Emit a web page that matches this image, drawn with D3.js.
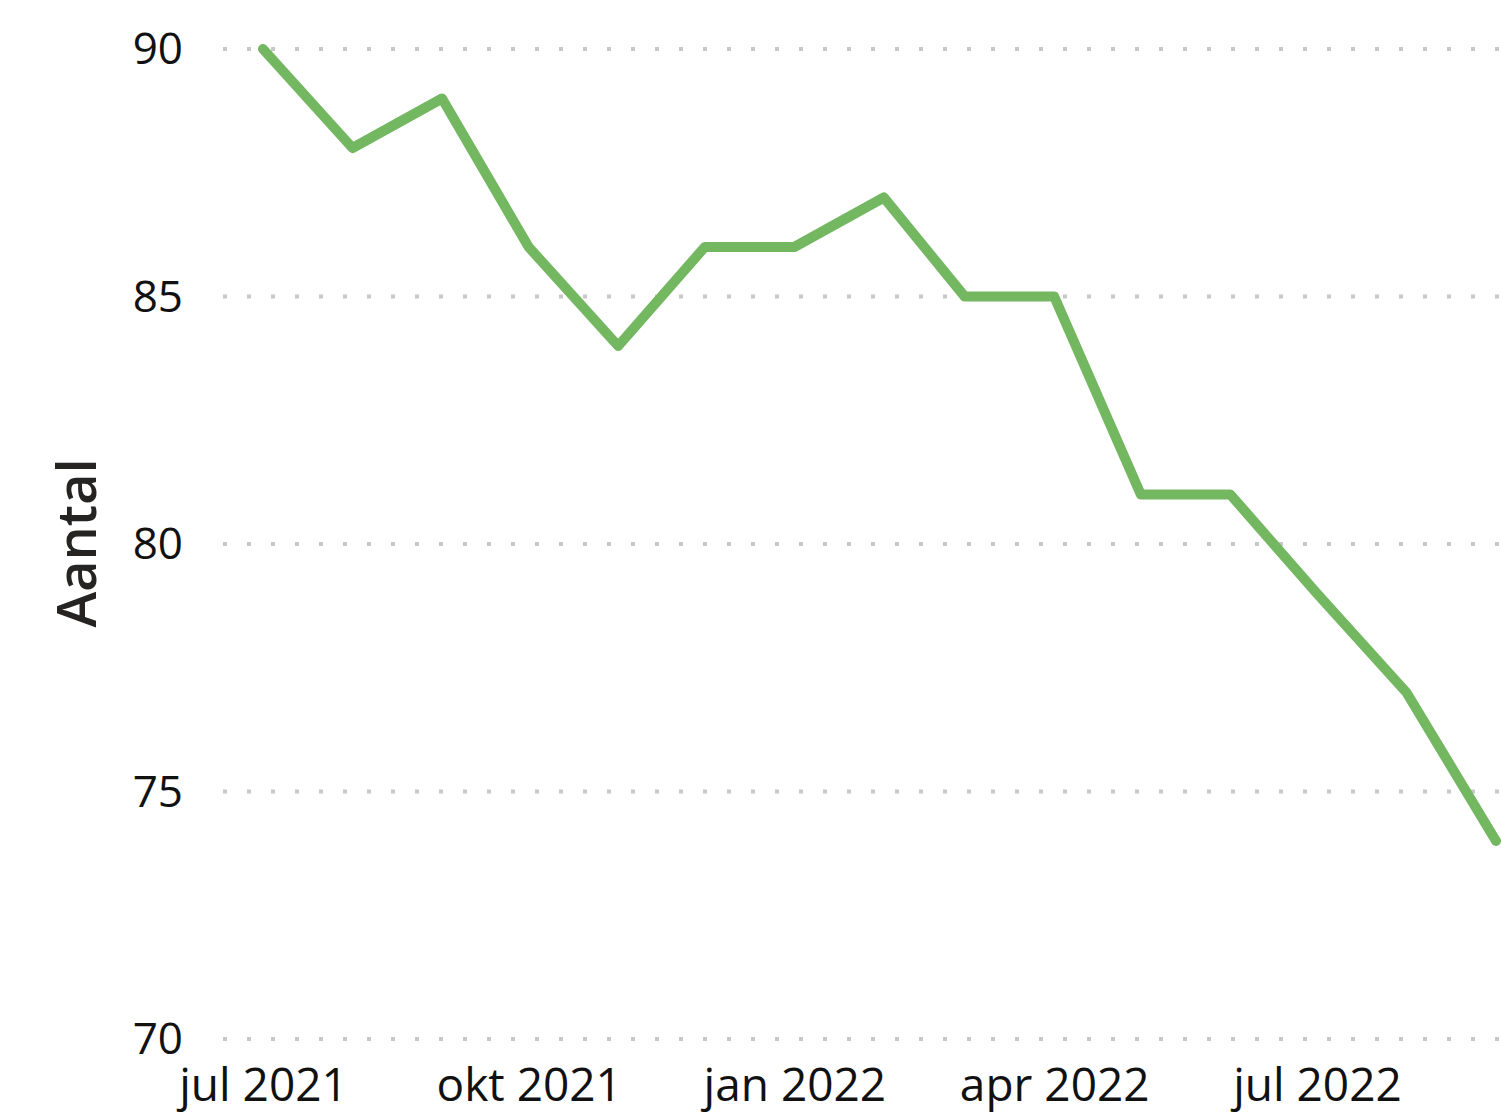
<!DOCTYPE html>
<html><head><meta charset="utf-8">
<script src="https://cdn.jsdelivr.net/npm/d3@7"></script>
<style>html,body{margin:0;padding:0;background:#fff;overflow:hidden}</style>
</head><body>
<svg id="c" width="1501" height="1112"></svg>
<script>
const months = ["2021-07","2021-08","2021-09","2021-10","2021-11","2021-12","2022-01","2022-02","2022-03","2022-04","2022-05","2022-06","2022-07","2022-08","2022-09"];
const values = [90,88,89,86,84,86,86,87,85,85,81,81,79,77,74];
const yTicks = [70,75,80,85,90];
const xTickMonths = ["2021-07","2021-10","2022-01","2022-04","2022-07"];
const monthNames = ["jan","feb","mrt","apr","mei","jun","jul","aug","sep","okt","nov","dec"];

const parse = d3.timeParse("%Y-%m");
const data = months.map((m,i)=>({date:parse(m), value:values[i]}));
const svg = d3.select("#c");
const font = "'Open Sans', 'Noto Sans', sans-serif";

const x = d3.scaleTime().domain([parse("2021-07"), parse("2022-09")]).range([263,1496]);
const y = d3.scaleLinear().domain([70,90]).range([1039,49]);

// grid
svg.append("g").selectAll("line").data(yTicks).join("line")
  .attr("x1",223).attr("x2",1501)
  .attr("y1",d=>y(d)).attr("y2",d=>y(d))
  .attr("stroke","#c8c8c8").attr("stroke-width",4)
  .attr("stroke-dasharray","4,20");

// y axis
const yAxis = d3.axisLeft(y).tickValues(yTicks).tickSize(0).tickPadding(0);
const gy = svg.append("g").attr("transform","translate(183,0)").call(yAxis);
gy.select(".domain").remove();
gy.selectAll("text").attr("font-family",font).attr("font-size",44).attr("fill","#111").attr("dy","0.34em");

// x axis
const xAxis = d3.axisBottom(x).tickValues(xTickMonths.map(parse))
  .tickFormat(d=>monthNames[d.getMonth()]+" "+d.getFullYear()).tickSize(0).tickPadding(0);
const gx = svg.append("g").attr("transform","translate(0,1086)").call(xAxis);
gx.select(".domain").remove();
gx.selectAll("text").attr("font-family",font).attr("font-size",46).attr("fill","#111").attr("dy","0.32em");

// y title
svg.append("text").attr("transform","translate(96,543) rotate(-90)")
  .attr("text-anchor","middle").attr("font-family",font).attr("font-size",54)
  .attr("font-weight",600).attr("fill","#252423").text("Aantal");

// line
svg.append("path").datum(data)
  .attr("d", d3.line().x(d=>x(d.date)).y(d=>y(d.value)))
  .attr("fill","none").attr("stroke","#73b761").attr("stroke-width",10)
  .attr("stroke-linejoin","round").attr("stroke-linecap","round");
</script>
</body></html>
